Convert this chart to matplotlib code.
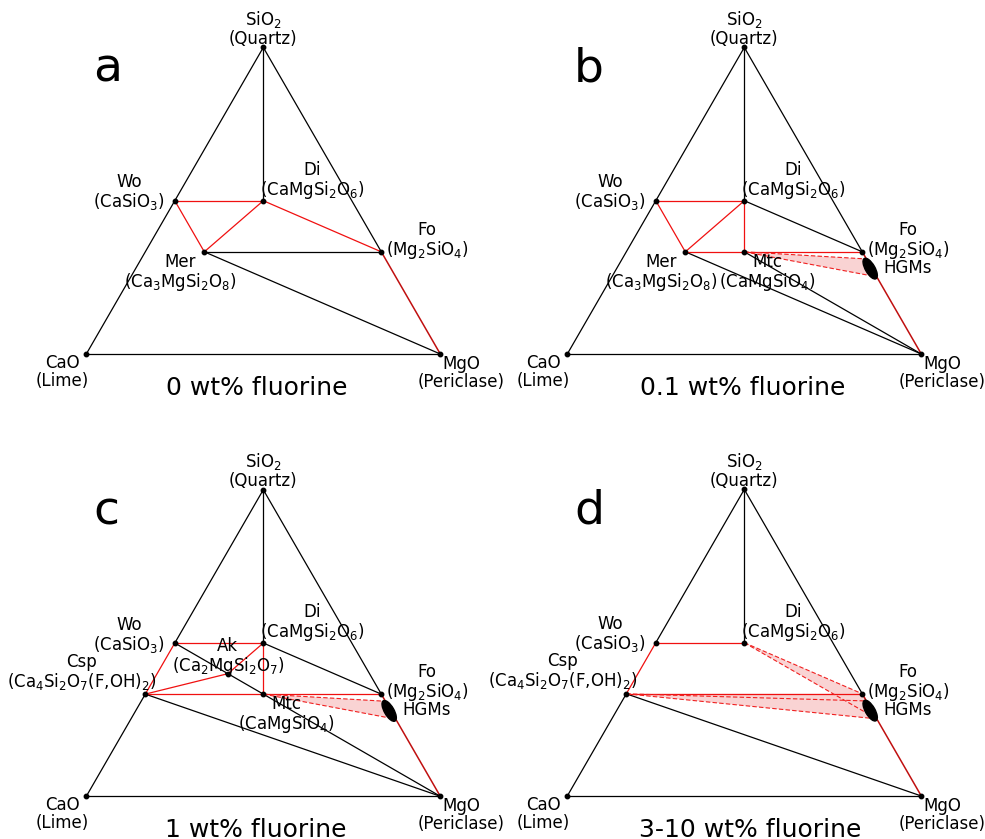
import numpy as np
import matplotlib.pyplot as plt
from matplotlib.patches import Ellipse, Polygon

# phase compositions as oxide mole counts (SiO2, CaO, MgO)
phases = ["SiO2", "CaO", "MgO", "Wo", "Di", "Fo", "Mer", "Mtc", "Ak", "Csp"]
sio2_mol = [1, 0, 0, 1, 2, 1, 2, 1, 2, 2]
cao_mol = [0, 1, 0, 1, 1, 0, 3, 1, 2, 4]
mgo_mol = [0, 0, 1, 0, 1, 2, 1, 1, 1, 0]
phase_labels = ["SiO$_2$\n(Quartz)", "CaO\n(Lime)", "MgO\n(Periclase)",
                "Wo\n(CaSiO$_3$)", "Di\n(CaMgSi$_2$O$_6$)", "Fo\n(Mg$_2$SiO$_4$)",
                "Mer\n(Ca$_3$MgSi$_2$O$_8$)", "Mtc\n(CaMgSiO$_4$)",
                "Ak\n(Ca$_2$MgSi$_2$O$_7$)", "Csp\n(Ca$_4$Si$_2$O$_7$(F,OH)$_2$)"]
# label offsets in pixels (dx, dy)
label_dx = [0, -24, 21, -46, 49, 46, -24, 23, 0, -64]
label_dy = [19, -18, -19, 8, 20, 11, -21, -21, 17, 22]

# HGM field along the Fo-MgO join (fraction of the way from Fo to MgO)
hgm_top = 0.07
hgm_bot = 0.245

letters = ["a", "b", "c", "d"]
titles = ["0 wt% fluorine", "0.1 wt% fluorine", "1 wt% fluorine", "3-10 wt% fluorine"]
title_x = [0.482, 0.495, 0.48, 0.516]

shown = [
    ["SiO2", "CaO", "MgO", "Wo", "Di", "Fo", "Mer"],
    ["SiO2", "CaO", "MgO", "Wo", "Di", "Fo", "Mer", "Mtc"],
    ["SiO2", "CaO", "MgO", "Wo", "Di", "Fo", "Mtc", "Ak", "Csp"],
    ["SiO2", "CaO", "MgO", "Wo", "Di", "Fo", "Csp"],
]
black_ties = [
    ["SiO2-CaO", "CaO-MgO", "SiO2-Fo", "SiO2-Di", "Mer-Fo", "Mer-MgO"],
    ["SiO2-CaO", "CaO-MgO", "SiO2-Fo", "SiO2-Di", "Di-Fo", "Mer-MgO", "Mtc-MgO"],
    ["SiO2-Wo", "Csp-CaO", "CaO-MgO", "SiO2-Fo", "SiO2-Di", "Di-Fo", "Wo-MgO", "Csp-MgO"],
    ["SiO2-Wo", "Csp-CaO", "CaO-MgO", "SiO2-Fo", "SiO2-Di", "Csp-MgO"],
]
red_ties = [
    ["Wo-Di", "Wo-Mer", "Mer-Di", "Di-Fo"],
    ["Wo-Di", "Wo-Mer", "Mer-Di", "Di-Mtc", "Mer-Fo"],
    ["Wo-Di", "Wo-Csp", "Csp-Ak", "Ak-Di", "Di-Mtc", "Csp-Fo"],
    ["Wo-Di", "Wo-Csp", "Csp-Fo"],
]
dashed_ties = [
    [],
    ["Mtc-HGMt", "Mtc-HGMb"],
    ["Mtc-HGMt", "Mtc-HGMb"],
    ["Di-Fo", "Di-HGMb", "Csp-HGMt", "Csp-HGMb"],
]
fills = [
    [],
    [["Mtc", "HGMt", "HGMb"]],
    [["Mtc", "HGMt", "HGMb"]],
    [["Di", "Fo", "HGMb"], ["Csp", "Fo", "HGMb"]],
]


def xy(name):
    if name in ("HGMt", "HGMb", "HGMc"):
        t = {"HGMt": hgm_top, "HGMb": hgm_bot, "HGMc": (hgm_top + hgm_bot) / 2}[name]
        a, b = xy("Fo"), xy("MgO")
        return a + t * (b - a)
    i = phases.index(name)
    s, c, m = sio2_mol[i], cao_mol[i], mgo_mol[i]
    tot = s + c + m
    return np.array([(m + s / 2) / tot, s / tot * np.sqrt(3) / 2])


def seg(ax, tie, **kw):
    a, b = tie.split("-")
    p, q = xy(a), xy(b)
    ax.plot([p[0], q[0]], [p[1], q[1]], solid_capstyle="round", **kw)


fig = plt.figure(figsize=(9.85, 8.39), dpi=100)
W, H = 985, 839
S = 354.0
# pixel blocks for the panels and the CaO corner inside each
blocks = [(0, 480, 0, 420), (480, 985, 0, 420), (0, 480, 420, 839), (480, 985, 420, 839)]
origins = [(86.3, 354), (567.3, 354), (86.3, 796.3), (567.3, 796)]

for k in range(4):
    x0, x1, y0, y1 = blocks[k]
    ox, oy = origins[k]
    ax = fig.add_axes([x0 / W, 1 - y1 / H, (x1 - x0) / W, (y1 - y0) / H])
    ax.set_xlim((x0 - ox) / S, (x1 - ox) / S)
    ax.set_ylim((oy - y1) / S, (oy - y0) / S)
    ax.axis("off")

    for poly in fills[k]:
        ax.add_patch(Polygon([xy(p) for p in poly], closed=True,
                             facecolor="#f9d3d3", edgecolor="none", zorder=1))
    for tie in black_ties[k]:
        seg(ax, tie, color="black", lw=0.9, zorder=2)
    for tie in red_ties[k]:
        seg(ax, tie, color="#f01010", lw=0.9, zorder=3)
    seg(ax, "Fo-MgO", color="#c01010", lw=1.1, zorder=3)
    for tie in dashed_ties[k]:
        seg(ax, tie, color="#f02020", lw=0.8, ls=(0, (4, 2)), zorder=3)

    if k > 0:
        c = xy("HGMc")
        ax.add_patch(Ellipse((c[0] - 0.004, c[1] - 0.002), 0.066, 0.027, angle=-60,
                             facecolor="black", edgecolor="black", zorder=4))
        ax.annotate("HGMs", (c[0], c[1]), xytext=(12, 0), textcoords="offset pixels",
                    ha="left", va="center", fontsize=12)

    for name in shown[k]:
        p = xy(name)
        ax.plot(p[0], p[1], "o", color="black", ms=3.2, zorder=5)
        i = phases.index(name)
        ax.annotate(phase_labels[i], (p[0], p[1]),
                    xytext=(label_dx[i], label_dy[i]), textcoords="offset pixels",
                    ha="center", va="center", multialignment="center",
                    fontsize=12, linespacing=1.0)

    ax.text(6.7 / S, 272 / S, letters[k], fontsize=34, ha="left", va="baseline")
    ax.text(title_x[k], -0.096, titles[k], fontsize=18, ha="center", va="center")

fig.savefig("out.png", dpi=100)
